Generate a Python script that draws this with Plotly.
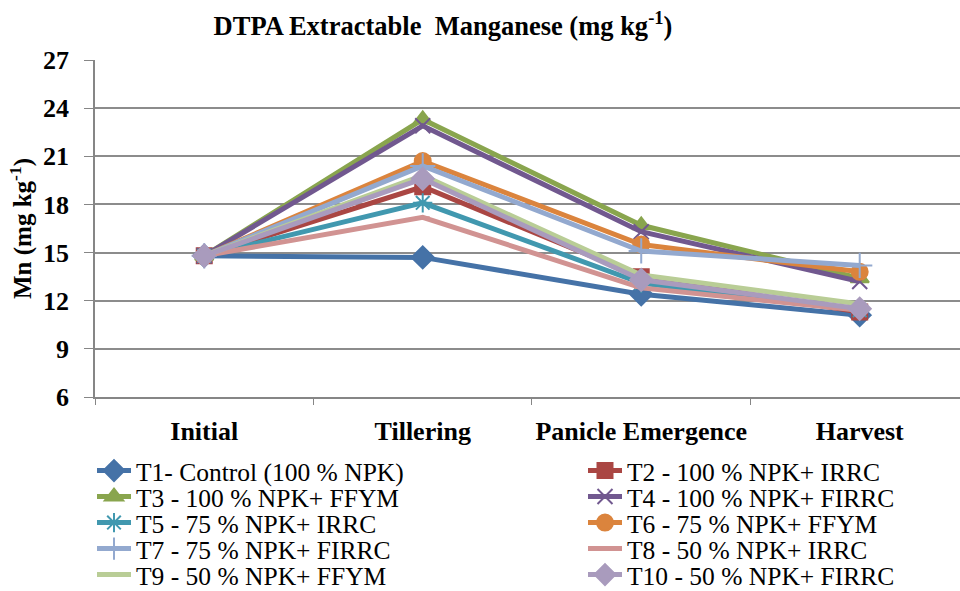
import plotly.graph_objects as go

stages = ["Initial", "Tillering", "Panicle Emergence", "Harvest"]

names = [
    "T1- Control (100 % NPK)",
    "T2 - 100 % NPK+ IRRC",
    "T3 - 100 % NPK+ FFYM",
    "T4 - 100 % NPK+ FIRRC",
    "T5 - 75 % NPK+ IRRC",
    "T6 - 75 % NPK+ FFYM",
    "T7 - 75 % NPK+ FIRRC",
    "T8 - 50 % NPK+ IRRC",
    "T9 - 50 % NPK+ FFYM",
    "T10 - 50 % NPK+ FIRRC",
]

t1 = [14.8, 14.7, 12.4, 11.1]
t2 = [14.8, 19.1, 13.5, 11.3]
t3 = [14.8, 23.3, 16.7, 13.4]
t4 = [14.8, 22.9, 16.3, 13.2]
t5 = [14.8, 18.1, 13.1, 11.4]
t6 = [14.8, 20.7, 15.5, 13.8]
t7 = [14.8, 20.4, 15.1, 14.2]
t8 = [14.8, 17.2, 12.8, 11.4]
t9 = [14.8, 19.8, 13.6, 11.8]
t10 = [14.8, 19.6, 13.3, 11.5]
series = [t1, t2, t3, t4, t5, t6, t7, t8, t9, t10]

colors = ["#4572A7", "#AA4643", "#89A54E", "#71588F", "#4198AF",
          "#DB843D", "#93A9CF", "#D19392", "#B9CD96", "#A99BBD"]
symbols = ["diamond", "square", "triangle-up", "x-thin-open", "asterisk-open",
           "circle", "cross-thin-open", "line-ew-open", "line-ew-open", "diamond"]
sizes = [17, 15, 16, 15, 16, 16, 18, 10, 10, 17]

FONT = "Times New Roman, Liberation Serif, Tinos, DejaVu Serif, serif"

fig = go.Figure()

# legend slot positions (px in the 960x591 page)
leg_cols = [92, 583]
leg_rows = [471, 497, 523, 549, 575]
L, R, T, B = 95, 0, 60, 194
PW, PH = 960 - L - R, 591 - T - B

for i, (nm, vals) in enumerate(zip(names, series)):
    lid = "legend" if i == 0 else f"legend{i+1}"
    fig.add_trace(go.Scatter(
        x=stages, y=vals, name=nm, mode="lines+markers",
        line=dict(color=colors[i], width=5),
        marker=dict(symbol=symbols[i], size=sizes[i], color=colors[i],
                    line=dict(color=colors[i], width=2)),
        legend=lid,
    ))
    col = i % 2
    row = i // 2
    fig.update_layout({lid: dict(
        x=(leg_cols[col] - L) / PW, y=(591 - B - leg_rows[row]) / PH,
        xanchor="left", yanchor="middle",
        bgcolor="rgba(0,0,0,0)", borderwidth=0,
        font=dict(family=FONT, size=25.5, color="black"),
        itemwidth=34,
    )})

fig.update_layout(
    width=960, height=591,
    font=dict(family=FONT, color="black"),
    paper_bgcolor="white", plot_bgcolor="white",
    margin=dict(l=L, r=R, t=T, b=B, autoexpand=False),
    showlegend=True,
    title=dict(
        text="DTPA Extractable  Manganese (mg kg<sup>-1</sup>)",
        x=443 / 960, xanchor="center", xref="container",
        y=1 - 26 / 591, yanchor="middle", yref="container",
        font=dict(family=FONT, size=26.5, color="black", weight="bold"),
    ),
    xaxis=dict(
        type="category", range=[-0.5, 3.459], automargin=False,
        tickson="boundaries", ticks="outside", ticklen=6, tickcolor="#868686",
        showline=True, linecolor="#868686", linewidth=1.5,
        showgrid=False, zeroline=False, tickangle=0,
        tickfont=dict(family=FONT, size=26, color="black", weight="bold"),
        ticklabelstandoff=10,
    ),
    yaxis=dict(
        range=[6, 27], tickvals=[6, 9, 12, 15, 18, 21, 24, 27], automargin=False,
        ticks="outside", ticklen=9, tickcolor="#868686",
        showline=True, linecolor="#868686", linewidth=1.5,
        showgrid=True, gridcolor="#8C8C8C", gridwidth=1.5,
        zeroline=False,
        tickfont=dict(family=FONT, size=26, color="black", weight="bold"),
        ticklabelstandoff=10,
        title=dict(text="Mn (mg kg<sup>-1</sup>)", standoff=4,
                   font=dict(family=FONT, size=25, color="black", weight="bold")),
    ),
)

fig.write_html("out.html")
